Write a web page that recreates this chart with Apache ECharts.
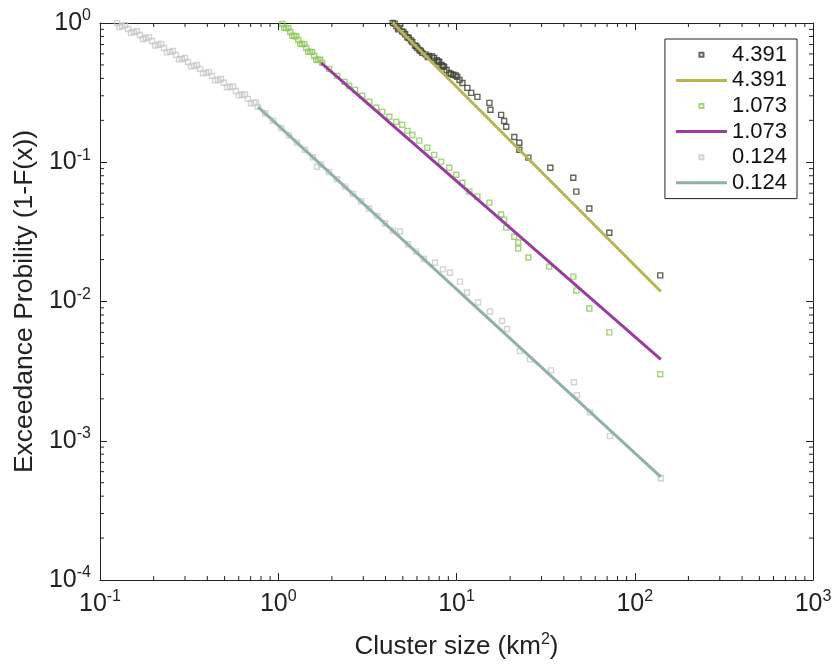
<!DOCTYPE html>
<html>
<head>
<meta charset="utf-8">
<script src="https://cdn.jsdelivr.net/npm/echarts@6.0.0/dist/echarts.min.js"></script>
<style>
  html, body { margin: 0; padding: 0; background: #fff; }
  #chart { width: 835px; height: 665px; }
</style>
</head>
<body>
<div id="chart"></div>
<script>
// axis ranges (log-log)
var X_MIN = 0.1, X_MAX = 1000;
var Y_MIN = 1e-4, Y_MAX = 1;

// data above xmin = 4.391 (cluster size, exceedance probability)
var pts4391 = [
  [4.39, 1.0], [4.5, 0.99], [4.6, 0.95], [4.7, 0.9], [4.77, 0.92], [4.95, 0.87], [5.05, 0.86],
  [5.15, 0.83], [5.3, 0.79], [5.4, 0.78], [5.55, 0.75], [5.65, 0.73], [5.85, 0.69], [5.95, 0.68],
  [6.03, 0.66], [6.2, 0.64], [6.3, 0.63], [6.43, 0.61], [6.7, 0.595], [6.9, 0.57], [7.03, 0.58],
  [7.3, 0.575], [7.5, 0.56], [7.75, 0.54], [7.9, 0.53], [8.0, 0.525], [8.25, 0.5], [8.4, 0.49],
  [8.53, 0.484], [8.8, 0.46], [9.1, 0.438], [9.3, 0.43], [9.6, 0.425], [9.9, 0.42], [10.1, 0.41],
  [10.4, 0.39], [10.8, 0.371], [11.5, 0.342], [12.1, 0.315], [13.1, 0.295], [15.3, 0.267],
  [15.5, 0.238], [17.8, 0.219], [18.5, 0.198], [19.0, 0.18], [21.1, 0.152], [22.5, 0.138],
  [22.5, 0.123], [25.3, 0.108], [33.6, 0.0914], [45.2, 0.0774], [47.0, 0.0615], [55.6, 0.0465],
  [72, 0.0312], [139, 0.0154]
];
var fit4391 = [[4.391, 1.0], [140, 0.0118]];

// data above xmin = 1.073
var pts1073 = [
  [1.053, 0.984], [1.081, 0.923], [1.109, 0.921], [1.138, 0.918], [1.168, 0.862], [1.199, 0.809],
  [1.23, 0.807], [1.262, 0.804], [1.295, 0.755], [1.329, 0.708], [1.364, 0.707], [1.4, 0.705],
  [1.436, 0.662], [1.473, 0.622], [1.512, 0.62], [1.551, 0.618], [1.592, 0.58], [1.633, 0.544],
  [1.676, 0.543], [1.72, 0.546], [1.765, 0.517], [1.93, 0.468],
  [2.14, 0.417], [2.35, 0.378], [2.5, 0.353], [2.7, 0.331], [2.96, 0.3], [3.24, 0.272],
  [3.55, 0.246], [3.83, 0.23], [4.2, 0.212], [4.59, 0.195], [4.96, 0.186], [5.3, 0.168],
  [5.65, 0.157], [6.18, 0.143], [6.86, 0.127], [7.5, 0.113], [8.2, 0.101], [9.1, 0.0914],
  [9.97, 0.0813], [10.8, 0.0713], [11.8, 0.0615], [13.1, 0.0566], [15.3, 0.0513], [17.8, 0.0421],
  [18.5, 0.0387], [19.0, 0.0339], [21.1, 0.0292], [22.2, 0.0265], [22.2, 0.024], [25.3, 0.0207],
  [33.1, 0.0178], [45.2, 0.0151], [47.0, 0.012], [55.6, 0.00891], [72, 0.006], [139, 0.003]
];
var fit1073 = [[1.74, 0.517], [140, 0.00384]];

// data above xmin = 0.124
var pts0124 = [
  [0.1246, 1.0], [0.1287, 0.937], [0.133, 0.952], [0.1382, 0.966], [0.1436, 0.906], [0.1492, 0.849],
  [0.155, 0.862], [0.1612, 0.874], [0.1677, 0.82], [0.1742, 0.768], [0.181, 0.781], [0.1883, 0.792],
  [0.1958, 0.743], [0.2035, 0.69], [0.2116, 0.696], [0.2199, 0.706], [0.2286, 0.662], [0.2376, 0.615],
  [0.247, 0.62], [0.2568, 0.629], [0.2669, 0.59], [0.2775, 0.548], [0.2884, 0.552], [0.2998, 0.56],
  [0.3117, 0.525], [0.324, 0.488], [0.3368, 0.492], [0.3501, 0.499], [0.364, 0.468], [0.3784, 0.435],
  [0.3933, 0.438], [0.4088, 0.444], [0.425, 0.417], [0.4417, 0.387], [0.459, 0.39], [0.4771, 0.396],
  [0.496, 0.372], [0.5156, 0.346], [0.536, 0.348], [0.5571, 0.35], [0.579, 0.325], [0.602, 0.302],
  [0.626, 0.305], [0.6505, 0.307], [0.676, 0.285], [0.703, 0.265], [0.731, 0.267], [0.7503, 0.268],
  [0.77, 0.25], [0.843, 0.225], [0.935, 0.199], [1.036, 0.1764], [1.149, 0.1561], [1.274, 0.1384],
  [1.413, 0.1227], [1.567, 0.1086], [1.65, 0.0928], [1.737, 0.0963], [1.926, 0.0852], [2.136, 0.0755],
  [2.369, 0.0668], [2.627, 0.0593], [2.913, 0.0525], [3.228, 0.0465], [3.581, 0.0412], [3.971, 0.0365],
  [4.404, 0.0323], [4.82, 0.0318], [5.35, 0.0258], [5.93, 0.0228], [6.57, 0.0202], [7.58, 0.019],
  [8.4, 0.017], [9.19, 0.0161], [10.46, 0.0139], [11.45, 0.0116], [13.2, 0.00983], [15.4, 0.00848],
  [18.0, 0.00725], [19.2, 0.00635], [22.7, 0.00442], [25.8, 0.00384], [33.9, 0.0032], [45.6, 0.00263],
  [47.4, 0.00212], [56.1, 0.0016], [72.6, 0.00108], [140, 0.000538]
];
var fit0124 = [[0.77, 0.25], [140, 0.00055]];

// minor tick positions 2..9 x 10^n
var xMinorTicks = [];
var yMinorTicks = [];
for (var e = -1; e < 3; e++) {
  for (var k = 2; k <= 9; k++) xMinorTicks.push(k * Math.pow(10, e));
}
for (var e2 = -4; e2 < 0; e2++) {
  for (var k2 = 2; k2 <= 9; k2++) yMinorTicks.push(k2 * Math.pow(10, e2));
}

var FONT = 'Liberation Sans, Arial, Helvetica, sans-serif';
var INK = '#222';

// legend icons: small square for points, 3px bar for fits (bbox padded to 51x5)
var PT_ICON = 'path://M0,2.5L0,2.5M51,2.5L51,2.5M23.5,0.5H27.5V4.5H23.5Z';
var LINE_ICON = 'path://M0,0L0,0M0,5L0,5M0,1H51V4H0Z';

function powLabel(v) {
  var p = Math.round(Math.log10(v));
  return '{b|10}{s|' + p + '}';
}
var labelRich = {
  b: { fontSize: 25, lineHeight: 30, color: INK, fontFamily: FONT },
  s: { fontSize: 16, lineHeight: 16, color: INK, fontFamily: FONT, verticalAlign: 'top' }
};

function tickLine(x1, y1, x2, y2) {
  return { type: 'line', shape: { x1: x1, y1: y1, x2: x2, y2: y2 }, style: { stroke: INK, lineWidth: 1 } };
}

var chart = echarts.init(document.getElementById('chart'));

chart.setOption({
  animation: false,
  backgroundColor: '#fff',
  grid: { left: 100, right: 22, top: 23, bottom: 84 },
  legend: {
    orient: 'vertical',
    right: 38,
    top: 39,
    itemWidth: 51,
    itemHeight: 5,
    itemGap: 0,
    padding: [3, 10, 3, 10],
    borderColor: INK,
    borderWidth: 1,
    backgroundColor: '#fff',
    textStyle: { fontSize: 22, lineHeight: 25.6, color: '#111', fontFamily: FONT },
    formatter: function (name) { return name.split(' ')[1]; },
    data: [
      { name: 'pts 4.391', icon: PT_ICON },
      { name: 'fit 4.391', icon: LINE_ICON },
      { name: 'pts 1.073', icon: PT_ICON },
      { name: 'fit 1.073', icon: LINE_ICON },
      { name: 'pts 0.124', icon: PT_ICON },
      { name: 'fit 0.124', icon: LINE_ICON }
    ]
  },
  xAxis: [{
    type: 'log', logBase: 10, min: X_MIN, max: X_MAX,
    name: '{a|Cluster size (km}{s|2}{a|)}',
    nameLocation: 'middle', nameGap: 52,
    nameTextStyle: {
      rich: {
        a: { fontSize: 26, lineHeight: 30, color: INK, fontFamily: FONT },
        s: { fontSize: 16, lineHeight: 16, color: INK, fontFamily: FONT, verticalAlign: 'top' }
      }
    },
    axisLine: { lineStyle: { color: INK, width: 1 } },
    axisTick: { inside: true, length: 7, lineStyle: { color: INK } },
    axisLabel: { formatter: powLabel, rich: labelRich, margin: 9 },
    splitLine: { show: false }
  }, {
    type: 'log', logBase: 10, min: X_MIN, max: X_MAX, position: 'top',
    axisLine: { lineStyle: { color: INK, width: 1 } },
    axisTick: { inside: true, length: 7, lineStyle: { color: INK } },
    axisLabel: { show: false },
    splitLine: { show: false }
  }],
  yAxis: [{
    type: 'log', logBase: 10, min: Y_MIN, max: Y_MAX,
    name: 'Exceedance Probility (1-F(x))',
    nameLocation: 'middle', nameGap: 45,
    nameTextStyle: { fontSize: 26.5, color: INK, fontFamily: FONT },
    axisLine: { lineStyle: { color: INK, width: 1 } },
    axisTick: { inside: true, length: 7, lineStyle: { color: INK } },
    axisLabel: { formatter: powLabel, rich: labelRich, margin: 9 },
    splitLine: { show: false }
  }, {
    type: 'log', logBase: 10, min: Y_MIN, max: Y_MAX, position: 'right',
    axisLine: { lineStyle: { color: INK, width: 1 } },
    axisTick: { inside: true, length: 7, lineStyle: { color: INK } },
    axisLabel: { show: false },
    splitLine: { show: false }
  }],
  series: [
    {
      name: 'pts 4.391', type: 'scatter', data: pts4391,
      symbol: 'rect', symbolSize: 5,
      itemStyle: { color: 'rgba(0,0,0,0)', borderColor: '#3d3d30', borderWidth: 1.4 }
    },
    {
      name: 'fit 4.391', type: 'line', data: fit4391, symbol: 'none',
      lineStyle: { color: '#b9b452', width: 3 }, itemStyle: { color: '#b9b452' }
    },
    {
      name: 'pts 1.073', type: 'scatter', data: pts1073,
      symbol: 'rect', symbolSize: 5,
      itemStyle: { color: 'rgba(0,0,0,0)', borderColor: '#8cc85a', borderWidth: 1.4 }
    },
    {
      name: 'fit 1.073', type: 'line', data: fit1073, symbol: 'none',
      lineStyle: { color: '#9a3c9e', width: 3 }, itemStyle: { color: '#9a3c9e' }
    },
    {
      name: 'pts 0.124', type: 'scatter', data: pts0124,
      symbol: 'rect', symbolSize: 5,
      itemStyle: { color: 'rgba(0,0,0,0)', borderColor: '#c6c9c6', borderWidth: 1.4 }
    },
    {
      name: 'fit 0.124', type: 'line', data: fit0124, symbol: 'none',
      lineStyle: { color: '#8fb0ad', width: 3 }, itemStyle: { color: '#8fb0ad' }
    },
    {
      type: 'custom', silent: true, clip: false,
      data: xMinorTicks.map(function (v) { return [v, Y_MIN]; }),
      renderItem: function (params, api) {
        var b = api.coord([api.value(0), Y_MIN]);
        var t = api.coord([api.value(0), Y_MAX]);
        return { type: 'group', children: [
          tickLine(b[0], b[1], b[0], b[1] - 4),
          tickLine(t[0], t[1], t[0], t[1] + 4)
        ] };
      }
    },
    {
      type: 'custom', silent: true, clip: false,
      data: yMinorTicks.map(function (v) { return [X_MIN, v]; }),
      renderItem: function (params, api) {
        var l = api.coord([X_MIN, api.value(1)]);
        var r = api.coord([X_MAX, api.value(1)]);
        return { type: 'group', children: [
          tickLine(l[0], l[1], l[0] + 4, l[1]),
          tickLine(r[0], r[1], r[0] - 4, r[1])
        ] };
      }
    }
  ]
});
</script>
</body>
</html>
